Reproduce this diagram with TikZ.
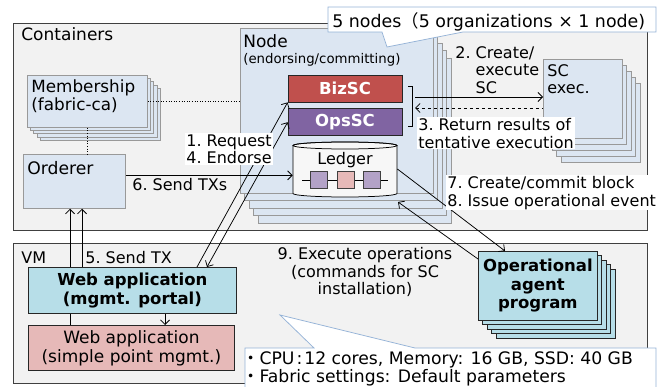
\documentclass[tikz,border=0pt]{standalone}
\usepackage{fontspec}
\setmainfont{DejaVu Sans}
\newfontfamily\cjk{Noto Sans CJK JP}
\usetikzlibrary{arrows.meta,calc,positioning,shapes}

\definecolor{areagray}{HTML}{F2F2F2}
\definecolor{nodeblue}{HTML}{DCE6F2}
\definecolor{bizred}{HTML}{C0504D}
\definecolor{opspurple}{HTML}{8064A2}
\definecolor{appblue}{HTML}{B7DEE8}
\definecolor{apppink}{HTML}{E6B9B8}
\definecolor{blocklilac}{HTML}{B3A2C7}
\definecolor{ledgerwhite}{HTML}{F7F7F7}
\definecolor{calloutblue}{HTML}{95B3D7}

\begin{document}
\begin{tikzpicture}[x=1pt,y=-1pt,line width=0.75pt,>={Straight Barb[length=4.5pt,width=9pt]},
    every node/.style={font=\fontsize{16}{17.5}\selectfont,inner sep=0pt},
    area/.style={draw=black!75,fill=areagray},
    elem/.style={draw=black!40,fill=nodeblue,anchor=north west},
    layer/.style={draw=black!40,fill=nodeblue},
    app/.style={draw=black!85,anchor=north west,align=center},
    sc/.style={draw=black!85,text=white,font=\fontsize{16.5}{18}\selectfont\bfseries,minimum width=114pt,minimum height=27pt},
    block/.style={draw=black!75,minimum size=17pt},
    lbl/.style={anchor=north west,align=left},
    note/.style={lbl,fill=white,inner sep=1pt},
    callout/.style={draw=calloutblue,fill=white}]

  \useasboundingbox (0,0) rectangle (671,387);

  \draw[area] (13,23) rectangle (647,230);
  \node[lbl,font=\fontsize{17}{19}\selectfont] (CONTAINERS) at (21,27) {Containers};
  \draw[area] (13,243) rectangle (647,383);
  \node[lbl] (VM) at (21,251) {VM};

  % peer node with its copies behind
  \foreach \i in {4,3,2,1}
    \draw[layer] (240+\i*4.6,28+\i*7.5) rectangle +(193,165);
  \node[elem,minimum width=193pt,minimum height=165pt] (NODE) at (240,28) {};
  \node[lbl,font=\fontsize{17}{19}\selectfont] (NODETITLE) at (243,34) {Node};
  \node[lbl,font=\fontsize{13.3}{15}\selectfont] (NODEROLE) at (243,53) {(endorsing/committing)};

  \node[sc,fill=bizred] (BIZSC) at (345,88.5) {BizSC};
  \node[sc,fill=opspurple] (OPSSC) [below=6pt of BIZSC] {OpsSC};
  \draw (408,86) -- (412,86) -- (412,126) -- (408,126);

  % ledger with its chain of blocks
  \node[minimum width=104pt,minimum height=55pt] (LEDGER) at (345,169) {};
  \draw[fill=ledgerwhite] (293,145.5) -- (293,193.5) arc[start angle=180,end angle=360,x radius=52pt,y radius=3.5pt]
    -- (397,145.5) arc[start angle=0,end angle=180,x radius=52pt,y radius=3.5pt] -- cycle;
  \draw (345,145.5) ellipse[x radius=52pt,y radius=3.5pt];
  \node[anchor=north] (LEDGERTXT) at (345,152) {Ledger};
  \draw (302,180) -- (388,180);
  \node[block,fill=blocklilac] (BLK1) at (319,180) {};
  \node[block,fill=apppink] (BLK2) at (346,180) {};
  \node[block,fill=blocklilac] (BLK3) at (372,180) {};

  % chaincode containers
  \foreach \i in {4,3,2,1}
    \draw[layer] (543+\i*4.5,59+\i*6) rectangle +(79,79);
  \node[elem,minimum width=79pt,minimum height=79pt] (SCEXEC) at (543,59) {};
  \node[lbl] (SCEXECTXT) at (547,64) {SC\\exec.};

  % membership and orderer
  \foreach \i in {4,3,2,1}
    \draw[layer] (27+\i*3.3,75+\i*3.3) rectangle +(120,52);
  \node[elem,minimum width=120pt,minimum height=52pt] (MEMBER) at (27,75) {};
  \node[lbl,font=\fontsize{16.8}{18.5}\selectfont] (MEMBERTXT) at (31,79) {Membership\\(fabric-ca)};
  \node[elem,minimum width=102pt,minimum height=54pt] (ORDERER) at (23,154) {};
  \node[lbl,font=\fontsize{17.2}{19}\selectfont] (ORDERERTXT) at (27,161) {Orderer};
  \draw[dotted,line width=0.6pt] (MEMBER.east) -- (MEMBER.east -| NODE.west);
  \draw[dotted,line width=0.6pt] (MEMBER.south) -- (ORDERER.north -| MEMBER.south);

  % web applications on the VM
  \node[app,fill=apppink,minimum width=206pt,minimum height=45pt,font=\fontsize{17}{19}\selectfont] (SIMPLE) at (28,325) {Web application\\(simple point mgmt.)};
  \coordinate (TXSIMPLE) at ([xshift=42pt]SIMPLE.north west);
  \path[->,draw] (TXSIMPLE) -- (TXSIMPLE |- ORDERER.south);
  \node[app,fill=appblue,minimum width=208pt,minimum height=46pt,font=\fontsize{16.5}{19}\selectfont\bfseries] (PORTAL) at (28,267) {Web application\\(mgmt. portal)};
  \coordinate (TXPORTAL) at ([xshift=54pt]PORTAL.north west);
  \path[->,draw] (TXPORTAL) -- (TXPORTAL |- ORDERER.south);
  \node[lbl] (SENDTX) at (85,251) {5.~Send TX};
  \coordinate (POINTS) at ([xshift=137pt]PORTAL.south west);
  \path[->,draw] (POINTS) -- (POINTS |- SIMPLE.north);

  \path[->,draw] ([xshift=169pt]PORTAL.north west) -- (BIZSC.south west);
  \path[<->,draw] ([xshift=179pt]PORTAL.north west) -- (OPSSC.west);
  \node[note] (REQUEST) at (185,133) {1.~Request\\4.~Endorse};

  \coordinate (TXS) at ([yshift=6pt]ORDERER.east);
  \path[->,draw] (TXS) -- (TXS -| LEDGER.west);
  \node[lbl] (SENDTXS) at (132,178) {6.~Send TXs};

  % smart contract execution
  \coordinate (SCOUT) at (415,97);
  \coordinate (SCBACK) at (415,108);
  \path[->,draw] (SCOUT) -- (SCOUT -| SCEXEC.west);
  \path[<-,draw,dashed] (SCBACK) -- (SCBACK -| SCEXEC.west);
  \node[lbl] (CREATESC) at (455,46) {2.~Create/\\\phantom{2.~}execute\\\phantom{2.~}SC};
  \node[note] (RESULTS) at (417,117) {3.~Return results of\\tentative execution};

  % operational agent
  \foreach \i in {4,3,2,1}
    \draw[draw=black!85,fill=appblue] (478+\i*4.5,251+\i*4.5) rectangle +(119,69);
  \node[app,fill=appblue,minimum width=119pt,minimum height=69pt,font=\fontsize{16.5}{18.5}\selectfont\bfseries] (AGENT) at (478,251) {Operational\\agent\\program};
  \coordinate (STACKLOW) at (398,202);
  \path[->,draw] (LEDGER.east) -- ([xshift=27pt]AGENT.north west);
  \path[->,draw] ([yshift=-8pt]AGENT.north west) -- (STACKLOW);
  \node[note] (EVENTS) at (446,175) {7.~Create/commit block\\8.~Issue operational event};
  \node[anchor=north,align=center] (EXECOPS) at (365,247) {9.~Execute operations\\(commands for SC\\installation)};

  % callouts
  \draw[callout] (328,7) -- (656,7) -- (656,32) -- (463,32) -- (387,47) -- (382,32) -- (328,32) -- cycle;
  \node[lbl,font=\fontsize{17.4}{19}\selectfont] (NODECOUNT) at (332,12) {5 nodes{\cjk （}5 organizations × 1 node)};
  \draw[callout] (245,348) -- (314,348) -- (280,315) -- (415,348) -- (656,348) -- (656,392) -- (245,392) -- cycle;
  \node[lbl,font=\fontsize{17.2}{18.5}\selectfont] (SPEC) at (242,351) {{\cjk ・}CPU\hspace{2pt}:\hspace{2pt}12 cores, Memory: 16 GB, SSD: 40 GB\\{\cjk ・}Fabric settings: Default parameters};
\end{tikzpicture}
\end{document}
